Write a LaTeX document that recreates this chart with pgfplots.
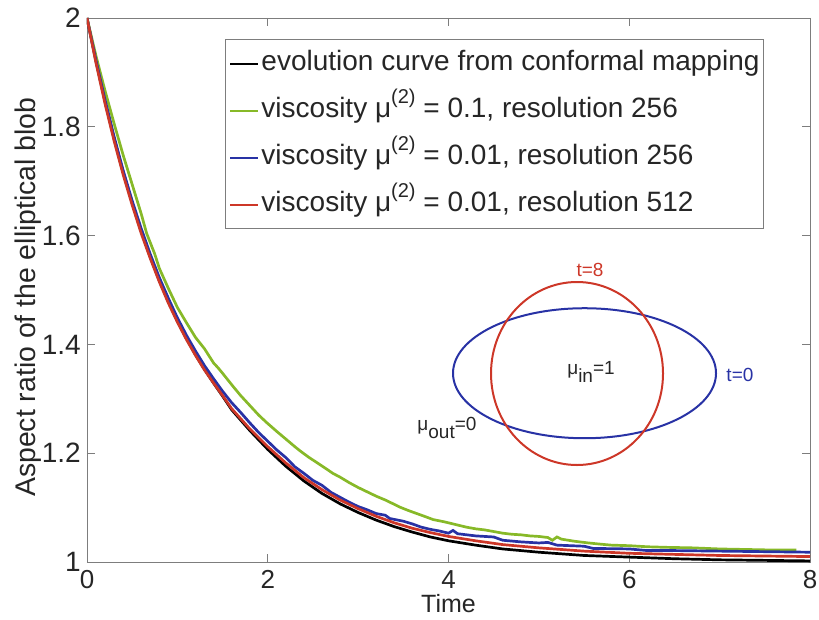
\documentclass[border=0pt]{standalone}
\usepackage{pgfplots}
\pgfplotsset{compat=1.18}
\usepackage{fontspec}
\setmainfont{Liberation Sans}
\definecolor{cgreen}{RGB}{135,185,40}
\definecolor{cblue}{RGB}{40,50,165}
\definecolor{cred}{RGB}{205,55,40}
\definecolor{axgray}{RGB}{125,125,125}
\newcommand{\supr}[1]{\raisebox{0.5em}{\fontsize{20}{20}\selectfont #1}}
\begin{document}
\begin{tikzpicture}
\begin{axis}[
  scale only axis, width=723pt, height=544pt,
  xmin=0, xmax=8, ymin=1, ymax=2,
  xtick={0,2,4,6,8}, ytick={1,1.2,1.4,1.6,1.8,2},
  tick align=inside, major tick length=8pt,
  axis line style={axgray, line width=0.8pt},
  tick style={axgray, line width=0.8pt},
  ticklabel style={font=\fontsize{28}{28}\selectfont, text=black!85},
  xticklabel style={font=\fontsize{26}{26}\selectfont, yshift=-8pt, text depth=0pt, inner sep=0pt},
  yticklabel style={xshift=-6pt, text depth=0pt, inner sep=0pt},
  /pgf/number format/assume math mode=true,
  xlabel={Time}, ylabel={Aspect ratio of the elliptical blob},
  label style={font=\fontsize{28.4}{28.4}\selectfont, text=black!85},
  xlabel style={font=\fontsize{25}{25}\selectfont, at={(axis description cs:0.5,-0.0585)}, anchor=north, inner sep=0pt, text depth=0pt},
  ylabel style={at={(axis description cs:-0.0816,0.487)}, anchor=center},
  legend style={at={(0.191,0.961)}, anchor=north west, draw=axgray, line width=0.8pt,
    font=\fontsize{28}{28}\selectfont, text=black!85, inner xsep=4pt, inner ysep=10pt,
    row sep=19pt, column sep=2pt,
    nodes={inner sep=0pt, text height=21pt, text depth=7pt}},
  legend cell align=left,
  legend image code/.code={\draw[#1, line width=2pt] (0pt,0pt) -- (28pt,0pt);},
]
\addplot[black, line width=2.7pt] coordinates {
(0,2.000) (0.1,1.920) (0.2,1.846) (0.3,1.778) (0.4,1.716) (0.5,1.660) (0.6,1.608)
(0.7,1.561) (0.8,1.518) (0.9,1.479) (1.0,1.443) (1.1,1.411) (1.2,1.381) (1.3,1.354)
(1.4,1.329) (1.5,1.305) (1.6,1.280) (1.8,1.242) (2.0,1.207) (2.2,1.176) (2.4,1.149)
(2.6,1.126) (2.8,1.107) (3.0,1.091) (3.2,1.077) (3.4,1.065) (3.6,1.055) (3.8,1.046)
(4.0,1.039) (4.3,1.031) (4.6,1.024) (5.0,1.018) (5.5,1.012) (6.0,1.009) (6.5,1.006)
(7.0,1.004) (7.5,1.003) (8.0,1.002)};
\addlegendentry{evolution curve from conformal mapping}
\addplot[cgreen, line width=2.7pt] coordinates {
(0,2.000) (0.1,1.930) (0.2,1.866) (0.31,1.800) (0.4,1.748) (0.5,1.694) (0.6,1.640)
(0.66,1.604) (0.75,1.566) (0.8,1.540) (0.9,1.503) (1.0,1.468) (1.1,1.440) (1.2,1.413)
(1.3,1.392) (1.4,1.366) (1.45,1.357) (1.5,1.347) (1.62,1.322) (1.7,1.306) (1.8,1.288)
(1.9,1.270) (1.99,1.256) (2.1,1.240) (2.2,1.226) (2.3,1.212) (2.36,1.204) (2.45,1.193)
(2.55,1.182) (2.65,1.171) (2.72,1.163) (2.8,1.156) (2.9,1.146) (3.0,1.137) (3.1,1.129)
(3.2,1.121) (3.3,1.114) (3.4,1.106) (3.46,1.101) (3.55,1.095) (3.65,1.089) (3.75,1.083)
(3.83,1.078) (3.95,1.074) (4.0,1.072) (4.1,1.068) (4.2,1.064) (4.3,1.061) (4.4,1.059)
(4.5,1.056) (4.6,1.053) (4.7,1.051) (4.8,1.050) (4.9,1.048) (5.0,1.047) (5.1,1.045)
(5.15,1.040) (5.2,1.046) (5.25,1.042) (5.4,1.038) (5.55,1.035) (5.67,1.033) (5.8,1.031)
(6.0,1.030) (6.2,1.028) (6.4,1.027) (6.7,1.026) (7.0,1.024) (7.3,1.023) (7.6,1.022)
(7.85,1.022)};
\addlegendentry{viscosity μ\supr{(2)} = 0.1, resolution 256}
\addplot[cblue, line width=2.7pt] coordinates {
(0,2.000) (0.1,1.922) (0.2,1.849) (0.3,1.782) (0.4,1.720) (0.5,1.664) (0.6,1.613)
(0.7,1.566) (0.8,1.523) (0.9,1.485) (1.0,1.449) (1.1,1.417) (1.2,1.388) (1.3,1.361)
(1.4,1.337) (1.5,1.314) (1.6,1.293) (1.7,1.275) (1.8,1.256) (1.9,1.238) (2.0,1.222)
(2.1,1.206) (2.2,1.192) (2.3,1.175) (2.4,1.163) (2.5,1.150) (2.6,1.141) (2.7,1.128)
(2.8,1.119) (2.9,1.110) (3.0,1.102) (3.1,1.096) (3.2,1.089) (3.3,1.086) (3.35,1.080)
(3.5,1.075) (3.6,1.070) (3.7,1.064) (3.8,1.060) (3.9,1.057) (4.0,1.053) (4.05,1.058)
(4.1,1.052) (4.3,1.048) (4.5,1.046) (4.6,1.040) (4.8,1.037) (5.0,1.035) (5.1,1.036)
(5.2,1.031) (5.5,1.029) (5.6,1.025) (6.0,1.024) (6.2,1.021) (6.5,1.021) (7.0,1.020)
(7.5,1.019) (8.0,1.018)};
\addlegendentry{viscosity μ\supr{(2)} = 0.01, resolution 256}
\addplot[cred, line width=2.7pt] coordinates {
(0,2.000) (0.1,1.917) (0.2,1.842) (0.3,1.774) (0.4,1.712) (0.5,1.656) (0.6,1.604)
(0.7,1.558) (0.8,1.515) (0.9,1.476) (1.0,1.441) (1.1,1.409) (1.2,1.380) (1.3,1.353)
(1.4,1.329) (1.5,1.306) (1.6,1.282) (1.8,1.245) (2.0,1.212) (2.2,1.182) (2.4,1.155)
(2.6,1.133) (2.8,1.114) (3.0,1.098) (3.2,1.084) (3.4,1.072) (3.6,1.062) (3.8,1.054)
(4.0,1.047) (4.3,1.039) (4.6,1.032) (5.0,1.026) (5.5,1.020) (6.0,1.016) (6.5,1.014)
(7.0,1.012) (7.5,1.011) (8.0,1.010)};
\addlegendentry{viscosity μ\supr{(2)} = 0.01, resolution 512}
\draw[cblue, line width=2pt] (axis cs:5.505,1.347) ellipse [x radius=131.5pt, y radius=65pt];
\draw[cred, line width=2pt] (axis cs:5.422,1.3465) ellipse [x radius=86pt, y radius=91.5pt];
\node[cred, font=\fontsize{19}{19}\selectfont] at (axis cs:5.566,1.537) {t=8};
\node[cblue, font=\fontsize{19}{19}\selectfont] at (axis cs:7.225,1.344) {t=0};
\node[black!85, font=\fontsize{19}{19}\selectfont] at (axis cs:5.577,1.349) {μ\raisebox{-0.45em}{in}=1};
\node[black!85, font=\fontsize{19}{19}\selectfont] at (axis cs:3.983,1.246) {μ\raisebox{-0.45em}{out}=0};
\end{axis}
\pgfresetboundingbox
\path[use as bounding box] (current axis.south west) ++(-87pt,-57pt) rectangle ++(819pt,619pt);
\end{tikzpicture}
\end{document}
